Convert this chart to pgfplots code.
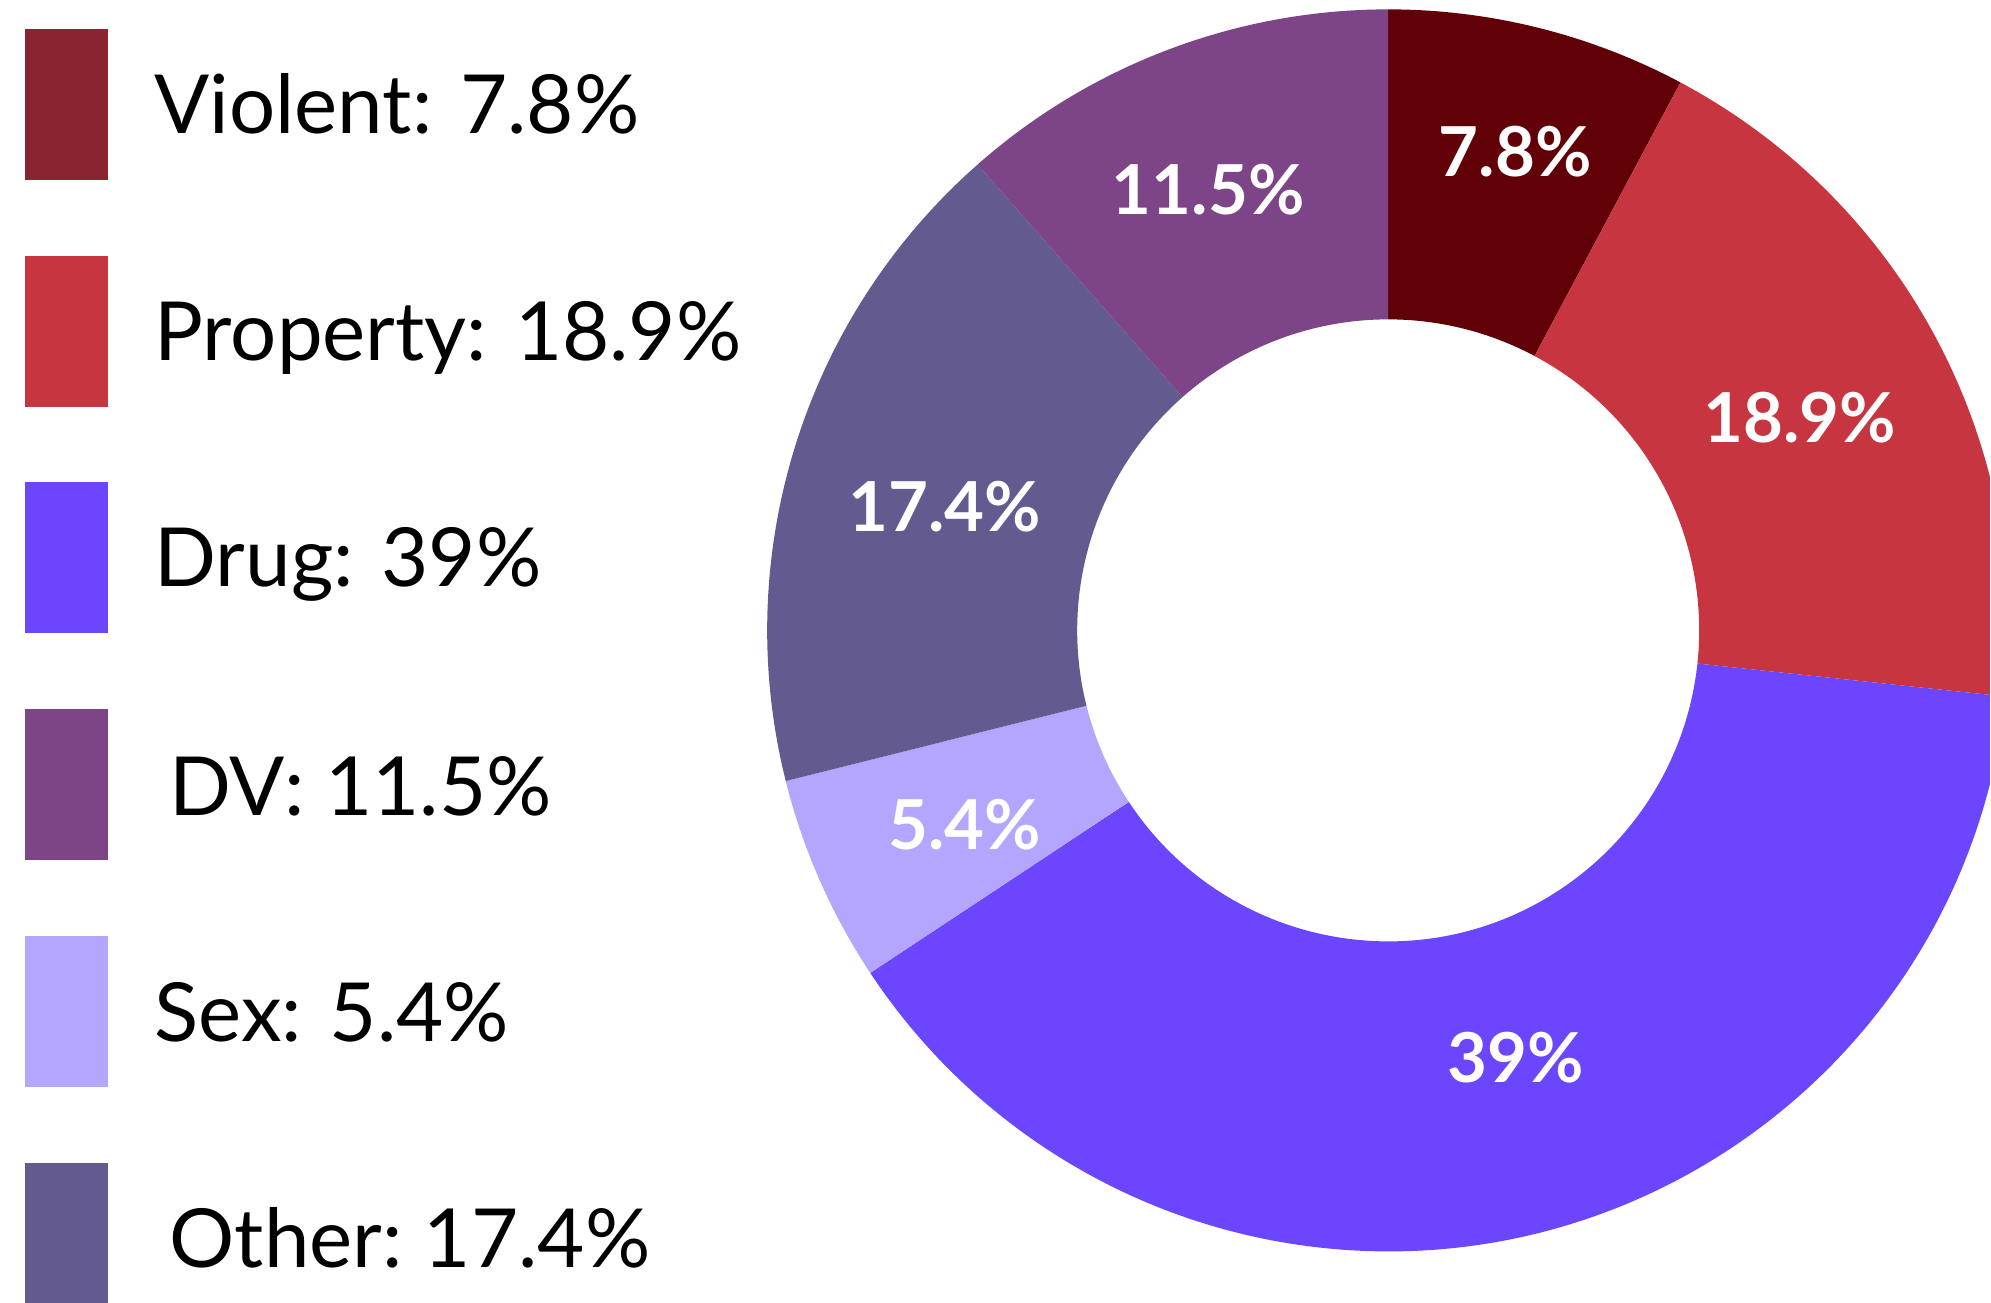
\documentclass[border=0pt]{standalone}
\usepackage{pgfplots}
\pgfplotsset{compat=1.18}
\usepackage{pgfplotstable}
\usepackage{fontspec}
\setmainfont{Lato}
% slice colours (clockwise from top)
\definecolor{c0}{HTML}{620008}
\definecolor{c1}{HTML}{C73540}
\definecolor{c2}{HTML}{6C45FF}
\definecolor{c3}{HTML}{B4A6FF}
\definecolor{c4}{HTML}{635A8F}
\definecolor{c5}{HTML}{7D4587}
% legend swatch for Violent is lighter
\definecolor{lviolent}{HTML}{8A2430}
\pgfplotstableread[col sep=comma]{
name,value
Violent,7.8
Property,18.9
Drug,39
Sex,5.4
Other,17.4
DV,11.5
}\shares
\begin{document}
\begin{tikzpicture}
\useasboundingbox (0,0) rectangle (19.91cm,13.03cm);
\gdef\cum{90}
\foreach \i in {0,...,5}{%
  \pgfplotstablegetelem{\i}{value}\of\shares
  \pgfmathsetmacro\b{\cum-3.6*\pgfplotsretval}%
  \expandafter\xdef\csname sa\i\endcsname{\cum}%
  \expandafter\xdef\csname ea\i\endcsname{\b}%
  \xdef\cum{\b}%
}
\begin{axis}[at={(0,0)},anchor=south west,
  x=0.01cm,y=0.01cm,xmin=0,xmax=1991,ymin=0,ymax=1303,
  hide axis,scale only axis,clip=true]
\pgfplotsinvokeforeach{0,...,5}{
  \fill[c#1] ([shift={(\csname sa#1\endcsname:6.21cm)}]axis cs:1389,673)
    arc[start angle=\csname sa#1\endcsname, end angle=\csname ea#1\endcsname, radius=6.21cm]
    -- ([shift={(\csname ea#1\endcsname:3.11cm)}]axis cs:1389,673)
    arc[start angle=\csname ea#1\endcsname, end angle=\csname sa#1\endcsname, radius=3.11cm]
    -- cycle;
}
% slice labels
\tikzset{lab/.style={anchor=base,inner sep=0pt,text=white,font=\fontsize{19.6}{23}\selectfont\bfseries}}
\node[lab] at (axis cs:1516,1127) {7.8\%};
\node[lab] at (axis cs:1801,861) {18.9\%};
\node[lab] at (axis cs:1517,221) {39\%};
\node[lab] at (axis cs:1209,1089) {11.5\%};
\node[lab] at (axis cs:945,772) {17.4\%};
\node[lab] at (axis cs:965,454) {5.4\%};
% legend
\tikzset{leg/.style={anchor=base west,inner sep=0pt,font=\fontsize{23.2}{27}\selectfont}}
\fill[lviolent] (axis cs:25,1275) rectangle (axis cs:108,1124);
\fill[c1] (axis cs:25,1048) rectangle (axis cs:108,897);
\fill[c2] (axis cs:25,821) rectangle (axis cs:108,670);
\fill[c5] (axis cs:25,594) rectangle (axis cs:108,443);
\fill[c3] (axis cs:25,367) rectangle (axis cs:108,216);
\fill[c4] (axis cs:25,140) rectangle (axis cs:108,-11);
\node[leg] at (axis cs:154,1170) {Violent: 7.8\%};
\node[leg] at (axis cs:154,943) {Property: 18.9\%};
\node[leg] at (axis cs:154,717) {Drug: 39\%};
\node[leg] at (axis cs:169,488) {DV: 11.5\%};
\node[leg] at (axis cs:154,262) {Sex: 5.4\%};
\node[leg] at (axis cs:169,35) {Other:\hspace{-0.08em} 17.4\%};
\end{axis}
\end{tikzpicture}
\end{document}
